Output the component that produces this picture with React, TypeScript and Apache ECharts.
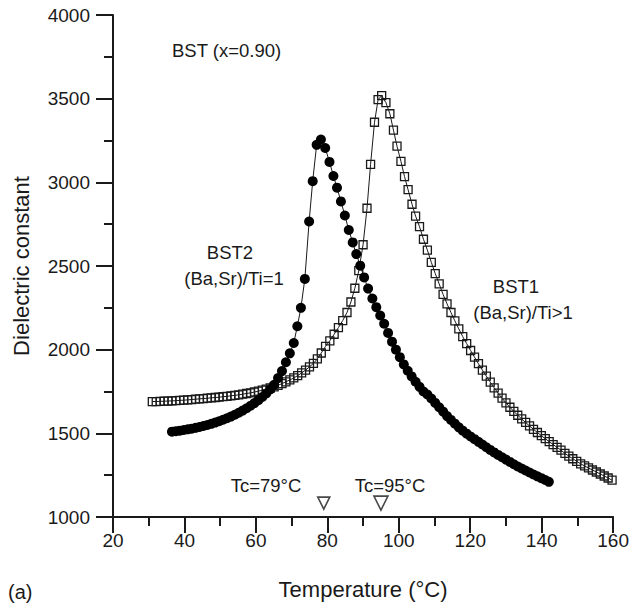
import React, { useEffect, useRef } from "react";
import * as echarts from "echarts";

// BST1 : (Ba,Sr)/Ti>1  — open squares
const bst1Temp = [
  31.0, 32.1, 33.2, 34.3, 35.4, 36.5, 37.6, 38.7, 39.8, 40.9, 42.0, 43.1, 44.2, 45.3, 46.4, 47.5, 48.6, 49.7,
  50.8, 51.9, 53.0, 54.1, 55.2, 56.3, 57.4, 58.5, 59.6, 60.7, 61.8, 62.9, 64.0, 65.1, 66.2, 67.3, 68.4, 69.5,
  70.6, 71.7, 72.8, 73.9, 75.0, 76.1, 77.2, 78.3, 79.5, 80.7, 81.9, 83.1, 84.3, 85.5, 86.6, 87.7, 88.8, 90.0,
  91.1, 92.1, 93.2, 94.2, 95.2, 96.4, 97.5, 98.5, 99.5, 100.6, 101.6, 102.6, 103.7, 104.7, 105.8, 106.9, 108.0,
  109.1, 110.2, 111.3, 112.4, 113.5, 114.6, 115.7, 116.8, 117.9, 119.0, 120.1, 121.2, 122.3, 123.4, 124.5,
  125.6, 126.7, 127.8, 128.9, 130.0, 131.1, 132.2, 133.3, 134.4, 135.5, 136.6, 137.7, 138.8, 139.9, 141.0,
  142.1, 143.2, 144.3, 145.4, 146.5, 147.6, 148.7, 149.8, 150.9, 152.0, 153.1, 154.2, 155.3, 156.4, 157.5,
  158.6, 159.7,
];
const bst1Eps = [
  1690, 1690, 1691, 1692, 1693, 1694, 1695, 1697, 1698, 1700, 1702, 1704, 1706, 1708, 1710, 1712, 1714, 1716,
  1719, 1721, 1724, 1727, 1730, 1734, 1738, 1742, 1747, 1752, 1758, 1764, 1771, 1778, 1787, 1797, 1808, 1819,
  1831, 1845, 1861, 1878, 1897, 1918, 1945, 1980, 2020, 2053, 2092, 2132, 2174, 2222, 2285, 2367, 2472, 2627,
  2845, 3107, 3359, 3494, 3518, 3476, 3410, 3312, 3216, 3125, 3034, 2956, 2869, 2798, 2735, 2660, 2595,
  2522, 2455, 2393, 2330, 2274, 2222, 2172, 2124, 2078, 2036, 1995, 1955, 1916, 1878, 1842,
  1806, 1772, 1740, 1710, 1682, 1656, 1631, 1608, 1586, 1565, 1544, 1524, 1505, 1486, 1468,
  1450, 1433, 1416, 1400, 1380, 1364, 1348, 1333, 1318, 1305, 1293, 1281, 1269, 1257, 1245,
  1233, 1220,
];

// BST2 : (Ba,Sr)/Ti=1 — filled circles
const bst2Temp = [
  36.5, 37.6, 38.7, 39.8, 40.9, 42.0, 43.1, 44.2, 45.3, 46.4, 47.5, 48.6, 49.7, 50.8, 51.9, 53.0, 54.1, 55.2,
  56.3, 57.4, 58.5, 59.6, 60.7, 61.8, 62.9, 64.0, 65.1, 66.2, 67.3, 68.4, 69.5, 70.6, 71.6, 72.6, 73.7, 74.9,
  75.9, 77.0, 78.2, 79.4, 80.6, 81.7, 82.7, 83.8, 84.9, 86.0, 87.1, 88.1, 89.2, 90.3, 91.4, 92.6, 93.7, 94.8,
  95.9, 97.0, 98.1, 99.2, 100.3, 101.4, 102.5, 103.6, 104.7, 105.8, 106.9, 108.0, 109.1, 110.2, 111.3, 112.4,
  113.5, 114.6, 115.7, 116.8, 117.9, 119.0, 120.1, 121.2, 122.3, 123.4, 124.5, 125.6, 126.7, 127.8, 128.9,
  130.0, 131.1, 132.2, 133.3, 134.4, 135.5, 136.6, 137.7, 138.8, 139.9, 141.0, 142.0,
];
const bst2Eps = [
  1510, 1513, 1516, 1520, 1524, 1528, 1533, 1538, 1544, 1550, 1557, 1564, 1572, 1581, 1590, 1600, 1611, 1623,
  1636, 1650, 1665, 1681, 1698, 1717, 1738, 1762, 1790, 1830, 1872, 1925, 1978, 2040, 2140, 2250, 2423, 2766,
  3007, 3224, 3256, 3205, 3122, 3038, 2968, 2886, 2802, 2715, 2641, 2571, 2502, 2432, 2365, 2306, 2254, 2204,
  2155, 2100, 2048, 2000, 1955, 1912, 1874, 1840, 1808, 1778, 1750, 1732, 1708, 1682, 1656, 1630,
  1603, 1580, 1558, 1536, 1516, 1498, 1481, 1465, 1449, 1433, 1417, 1401, 1386, 1371, 1357,
  1343, 1329, 1315, 1302, 1290, 1278, 1266, 1254, 1243, 1232, 1221, 1210,
];

// Curie temperature markers
const tcTemps = [79, 95];
const tcMarkerLevel = [1083, 1083];
const tcSizes = [12, 14];

const xTicks = { min: 20, max: 160, interval: 20 };
const yTicks = { min: 1000, max: 4000, interval: 500 };

const FONT = "Liberation Sans, Arial, Helvetica, sans-serif";
const INK = "#1a1a1a";

export default function App() {
  const ref = useRef<HTMLDivElement>(null);

  useEffect(() => {
    if (!ref.current) return;
    const chart = echarts.init(ref.current, null, { renderer: "svg" });

    const bst1 = bst1Temp.map((t, i) => [t, bst1Eps[i]]);
    const bst2 = bst2Temp.map((t, i) => [t, bst2Eps[i]]);
    const tc = tcTemps.map((t, i) => ({ value: [t, tcMarkerLevel[i]], symbolSize: tcSizes[i] }));

    const axisStyle = { color: INK, width: 2 };

    chart.setOption({
      animation: false,
      backgroundColor: "#ffffff",
      textStyle: { fontFamily: FONT, color: INK },
      grid: { left: 113, right: 15, top: 15, bottom: 86, containLabel: false },
      xAxis: {
        type: "value",
        min: xTicks.min,
        max: xTicks.max,
        interval: xTicks.interval,
        name: "Temperature (°C)",
        nameLocation: "middle",
        nameGap: 61,
        nameTextStyle: { fontSize: 22, color: INK, fontFamily: FONT },
        axisLine: { show: true, lineStyle: axisStyle },
        axisTick: { show: true, inside: false, length: 16, lineStyle: axisStyle },
        minorTick: { show: true, splitNumber: 2, length: 9, lineStyle: axisStyle },
        splitLine: { show: false },
        axisLabel: { fontSize: 19, color: INK, margin: 14, fontFamily: FONT },
      },
      yAxis: {
        type: "value",
        min: yTicks.min,
        max: yTicks.max,
        interval: yTicks.interval,
        name: "Dielectric constant",
        nameLocation: "middle",
        nameGap: 81,
        nameRotate: 90,
        nameTextStyle: { fontSize: 22, color: INK, fontFamily: FONT },
        axisLine: { show: true, lineStyle: axisStyle },
        axisTick: { show: true, inside: false, length: 17, lineStyle: axisStyle },
        minorTick: { show: true, splitNumber: 2, length: 9, lineStyle: axisStyle },
        splitLine: { show: false },
        axisLabel: {
          fontSize: 19,
          color: INK,
          margin: 23,
          fontFamily: FONT,
          formatter: (v: number) => String(v),
        },
      },
      series: [
        {
          name: "BST1",
          type: "line",
          data: bst1,
          symbol: "rect",
          symbolSize: 8,
          showAllSymbol: true,
          lineStyle: { color: INK, width: 1 },
          itemStyle: { color: "rgba(255,255,255,0)", borderColor: INK, borderWidth: 1.3 },
          z: 2,
        },
        {
          name: "BST2",
          type: "line",
          data: bst2,
          symbol: "circle",
          symbolSize: 10,
          showAllSymbol: true,
          lineStyle: { color: INK, width: 1 },
          itemStyle: { color: "#000", borderWidth: 0 },
          z: 3,
        },
        {
          name: "Tc",
          type: "scatter",
          data: tc,
          symbol: "triangle",
          symbolRotate: 180,
          itemStyle: { color: "#fff", borderColor: INK, borderWidth: 1.6 },
          z: 4,
        },
      ],
      graphic: [
        { type: "text", left: 172, top: 41, style: { text: "BST (x=0.90)", font: `18.5px ${FONT}`, fill: INK } },
        { type: "text", x: 230, y: 252, style: { text: "BST2", font: `18.5px ${FONT}`, fill: INK, align: "center", verticalAlign: "middle" } },
        { type: "text", x: 234, y: 278, style: { text: "(Ba,Sr)/Ti=1", font: `18.5px ${FONT}`, fill: INK, align: "center", verticalAlign: "middle" } },
        { type: "text", x: 516, y: 286, style: { text: "BST1", font: `18.5px ${FONT}`, fill: INK, align: "center", verticalAlign: "middle" } },
        { type: "text", x: 523, y: 312, style: { text: "(Ba,Sr)/Ti>1", font: `18.5px ${FONT}`, fill: INK, align: "center", verticalAlign: "middle" } },
        { type: "text", x: 266, y: 485, style: { text: "Tc=79°C", font: `18.5px ${FONT}`, fill: INK, align: "center", verticalAlign: "middle" } },
        { type: "text", x: 390, y: 485, style: { text: "Tc=95°C", font: `18.5px ${FONT}`, fill: INK, align: "center", verticalAlign: "middle" } },
        { type: "text", x: 8, y: 592, style: { text: "(a)", font: `20px ${FONT}`, fill: INK, verticalAlign: "middle" } },
      ],
    });

    return () => chart.dispose();
  }, []);

  return <div ref={ref} style={{ width: 632, height: 605, position: "absolute", left: 0, top: 0 }} />;
}
